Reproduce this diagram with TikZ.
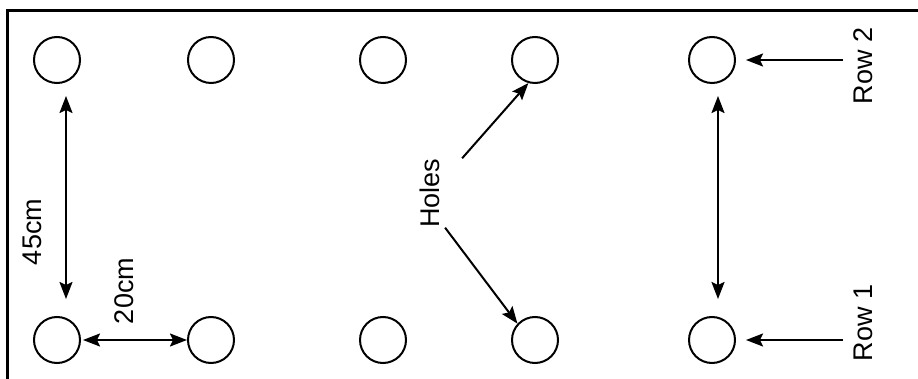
\documentclass[tikz,border=0pt]{standalone}
\usepackage{fontspec}
\setmainfont{Liberation Sans}
\usetikzlibrary{arrows.meta, positioning}

\begin{document}
\begin{tikzpicture}[
    x=1pt, y=-1pt,
    hole/.style={circle, draw, line width=2pt, minimum size=46pt, inner sep=0pt},
    lbl/.style={rotate=90, inner sep=0pt, font=\fontsize{27}{32}\selectfont},
    arr/.style={line width=2pt, -{Stealth[length=17pt, width=13pt, inset=3pt]}},
    dim/.style={line width=2pt, {Stealth[length=17pt, width=13pt, inset=3pt]}-{Stealth[length=17pt, width=13pt, inset=3pt]}}
]
\clip (0,0) rectangle (918,379);
\draw[line width=3pt] (7,11) rectangle (940,400);

% row 2 (top) and row 1 (bottom)
\node[hole] (h21) at (57,60) {};
\node[hole] (h22) at (211,60) {};
\node[hole] (h23) at (383,60) {};
\node[hole] (h24) at (535,60) {};
\node[hole] (h25) at (712,60) {};
\node[hole] (h11) at (57,340) {};
\node[hole] (h12) at (211,340) {};
\node[hole] (h13) at (383,340) {};
\node[hole] (h14) at (535,340) {};
\node[hole] (h15) at (712,340) {};

% labels
\node[lbl] (len45) at (32,232) {45cm};
\node[lbl] (len20) at (124,291) {20cm};
\node[lbl] (holes) at (430,193) {Holes};
\node[lbl] (row2) at (863,66) {Row 2};
\node[lbl] (row1) at (863,323) {Row 1};

% spacing
\draw[dim, shorten <=12pt, shorten >=17pt] ([xshift=9pt]h21.south) -- ([xshift=9pt]h11.north);
\draw[dim, shorten <=2pt] (h11) -- (h12);
\draw[dim, shorten <=12pt, shorten >=17pt] ([xshift=6pt]h25.south) -- ([xshift=6pt]h15.north);

% pointers
\draw[arr] ([xshift=22pt]holes.south east) -- (h24.254);
\draw[arr] ([xshift=5pt]holes.south west) -- (h14.137);
\draw[arr, shorten >=10pt] ([xshift=-10pt]row2.north |- h25.east) -- (h25.east);
\draw[arr, shorten >=10pt] ([xshift=-10pt]row1.north |- h15.east) -- (h15.east);

\end{tikzpicture}
\end{document}
